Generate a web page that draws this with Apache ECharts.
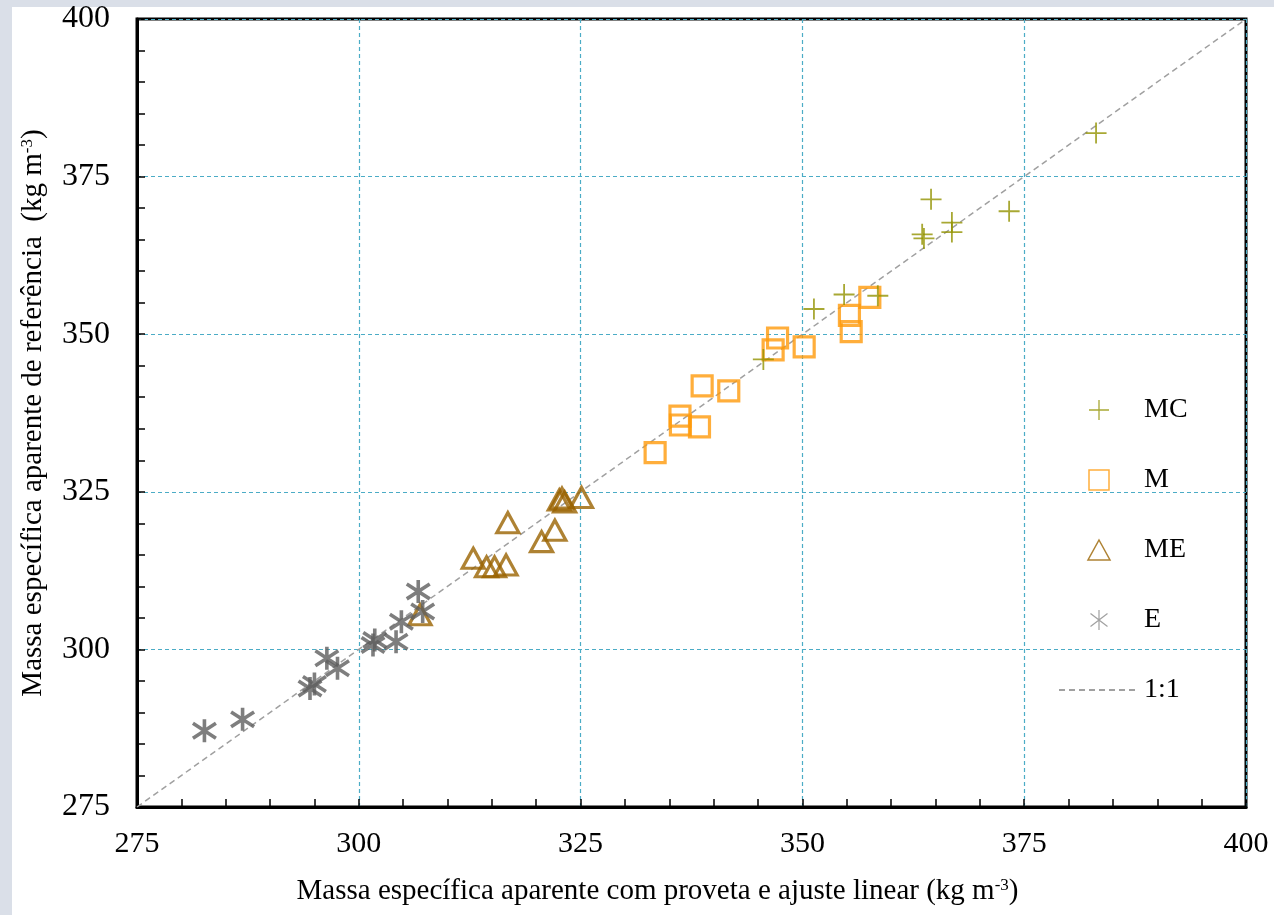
<!DOCTYPE html>
<html>
<head>
<meta charset="utf-8">
<script src="https://cdn.jsdelivr.net/npm/echarts@6/dist/echarts.min.js"></script>
<style>
  html, body { margin: 0; padding: 0; background: #fff; }
  #chart { width: 1274px; height: 915px; }
</style>
</head>
<body>
<div id="chart"></div>
<script>
// ---- data ----
const xTicks = [275, 300, 325, 350, 375, 400];
const yTicks = [275, 300, 325, 350, 375, 400];

const mcX = [345.6, 351.3, 354.7, 358.5, 363.5, 363.7, 364.5, 366.85, 366.85, 373.3, 383.1];
const mcY = [346.0, 354.0, 356.3, 356.1, 365.85, 365.2, 371.4, 367.7, 366.2, 369.5, 381.9];

const mX = [333.4, 336.2, 336.25, 338.4, 338.7, 341.7, 346.7, 347.2, 350.2, 355.3, 355.5, 357.6];
const mY = [331.2, 337.0, 335.6, 335.3, 341.8, 341.0, 347.5, 349.4, 348.0, 353.0, 350.4, 355.85];

const meX = [306.9, 312.9, 314.4, 315.3, 316.6, 316.8, 320.6, 322.1, 322.6, 322.9, 323.2, 325.1];
const meY = [305.5, 314.45, 313.1, 313.1, 313.4, 320.1, 317.1, 318.9, 323.7, 324.0, 323.4, 324.1];

const eX = [282.6, 286.9, 294.5, 295.0, 296.4, 297.6, 301.6, 301.8, 304.2, 304.8, 306.7, 307.2];
const eY = [287.1, 288.9, 293.8, 294.5, 298.6, 297.0, 300.7, 301.5, 301.2, 304.4, 309.2, 306.0];

const lineX = [275, 400];
const lineY = [275, 400];

const seriesNames = ['MC', 'M', 'ME', 'E', '1:1'];
const xName = 'Massa específica aparente com proveta e ajuste linear (kg m';
const yName = 'Massa específica aparente de referência  (kg m';

// ---- helpers ----
const zip = (a, b) => a.map((v, i) => [v, b[i]]);
const FONT = 'Liberation Serif';

const plusPath = 'path://M0,10L20,10M10,0L10,20';
const starPath = 'path://M10,0L10,20M1.5,3.5L18.5,16.5M1.5,16.5L18.5,3.5';
const rectPath = 'path://M0,0L20,0L20,20L0,20Z';
const triPath = 'path://M11,0L22,20L0,20Z';

const chart = echarts.init(document.getElementById('chart'), null, { renderer: 'canvas' });

const axisCommon = {
  type: 'value',
  min: 275,
  max: 400,
  interval: 25,
  axisLine: { show: true, lineStyle: { color: '#000', width: 3 } },
  axisTick: { show: true, inside: true, length: 8, lineStyle: { color: '#000', width: 1.5 } },
  minorTick: { show: true, splitNumber: 5, length: 8, lineStyle: { color: '#000', width: 1.5 } },
  splitLine: { show: true, lineStyle: { color: '#4bacc6', width: 1.2, type: [4, 3] } },
};

chart.setOption({
  backgroundColor: '#ffffff',
  animation: false,
  graphic: [
    { type: 'rect', left: 0, top: 0, shape: { width: 12, height: 915 }, style: { fill: '#dadfe8' }, z: -10 },
    { type: 'rect', left: 0, top: 0, shape: { width: 1274, height: 7 }, style: { fill: '#dadfe8' }, z: -10 }
  ],
  grid: {
    left: 137, top: 19, width: 1109, height: 788,
    show: true, borderColor: '#000', borderWidth: 3, backgroundColor: 'transparent'
  },
  xAxis: Object.assign({}, axisCommon, {
    axisLabel: {
      margin: 22, fontFamily: FONT, fontSize: 30, color: '#000',
      formatter: v => xTicks.includes(v) ? String(v) : ''
    },
    name: '{t|' + xName + '}{s|-3}{t|)}',
    nameLocation: 'middle',
    nameGap: 70,
    nameTextStyle: {
      padding: [0, 68, 0, 0],
      rich: {
        t: { fontFamily: FONT, fontSize: 29, color: '#000', verticalAlign: 'bottom' },
        s: { fontFamily: FONT, fontSize: 17, color: '#000', verticalAlign: 'top' }
      }
    }
  }),
  yAxis: Object.assign({}, axisCommon, {
    axisLabel: {
      margin: 27, fontFamily: FONT, fontSize: 32, color: '#000',
      formatter: v => yTicks.includes(v) ? String(v) : ''
    },
    name: '{t|' + yName + '}{s|-3}{t|)}',
    nameLocation: 'middle',
    nameRotate: 90,
    nameGap: 89,
    nameTextStyle: {
      rich: {
        t: { fontFamily: FONT, fontSize: 29, color: '#000', verticalAlign: 'bottom' },
        s: { fontFamily: FONT, fontSize: 17, color: '#000', verticalAlign: 'top' }
      }
    }
  }),
  legend: {
    orient: 'vertical',
    left: 1053,
    top: 390,
    itemWidth: 80,
    itemHeight: 20,
    itemGap: 40,
    textStyle: { fontFamily: FONT, fontSize: 28, color: '#000', lineHeight: 30 },
    data: [
      { name: 'MC', itemStyle: { borderWidth: 1.3 } },
      { name: 'M', itemStyle: { borderWidth: 1.5 } },
      { name: 'ME', itemStyle: { borderWidth: 1.5 } },
      { name: 'E', itemStyle: { borderWidth: 1.2, borderColor: '#888' } },
      { name: '1:1', itemStyle: { opacity: 0, color: 'rgba(0,0,0,0)', borderColor: 'rgba(0,0,0,0)', borderWidth: 0 } }
    ]
  },
  series: [
    {
      name: seriesNames[0], type: 'scatter', data: zip(mcX, mcY),
      symbol: plusPath, symbolSize: 21,
      itemStyle: { color: 'rgba(0,0,0,0)', borderColor: '#929200', borderWidth: 1.8 },
      z: 5
    },
    {
      name: seriesNames[1], type: 'scatter', data: zip(mX, mY),
      symbol: rectPath, symbolSize: 20,
      itemStyle: { color: 'rgba(0,0,0,0)', borderColor: '#ff9a0a', borderWidth: 3.2 },
      z: 4
    },
    {
      name: seriesNames[2], type: 'scatter', data: zip(meX, meY),
      symbol: triPath, symbolSize: [22, 20],
      itemStyle: { color: 'rgba(0,0,0,0)', borderColor: '#9a6300', borderWidth: 3.2 },
      z: 4
    },
    {
      name: seriesNames[3], type: 'scatter', data: zip(eX, eY),
      symbol: starPath, symbolSize: 23,
      itemStyle: { color: 'rgba(0,0,0,0)', borderColor: '#5e5e5e', borderWidth: 3.6 },
      z: 4
    },
    {
      name: seriesNames[4], type: 'line', data: zip(lineX, lineY),
      symbol: 'none', silent: true,
      lineStyle: { color: '#a0a0a0', width: 1.5, type: [6, 4] },
      itemStyle: { color: '#a0a0a0' },
      z: 3
    }
  ]
});
</script>
</body>
</html>
